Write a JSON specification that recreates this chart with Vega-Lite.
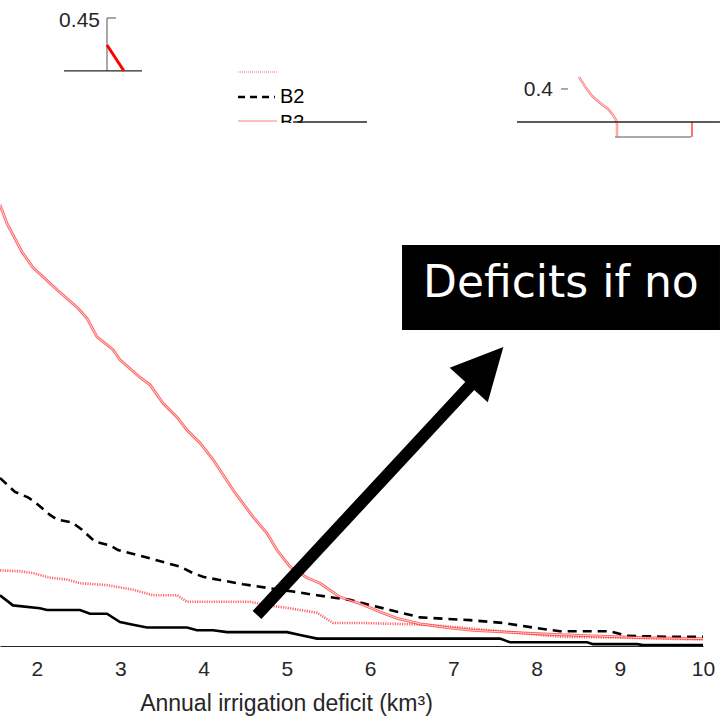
{
  "$schema": "https://vega.github.io/schema/vega-lite/v6.json",
  "width": 703,
  "height": 646,
  "autosize": {"type": "none"},
  "padding": {"left": 0, "top": 0, "right": 17, "bottom": 75},
  "background": "white",
  "config": {"view": {"stroke": null}, "font": "Liberation Sans"},
  "datasets": {
    "curves": [
      {"s": "B3", "x": 1.556, "y": 0.478}, {"s": "B3", "x": 1.64, "y": 0.458}, {"s": "B3", "x": 1.82, "y": 0.427}, {"s": "B3", "x": 1.952, "y": 0.41},
      {"s": "B3", "x": 2.241, "y": 0.386}, {"s": "B3", "x": 2.493, "y": 0.366}, {"s": "B3", "x": 2.601, "y": 0.355}, {"s": "B3", "x": 2.721, "y": 0.335},
      {"s": "B3", "x": 2.913, "y": 0.321}, {"s": "B3", "x": 2.997, "y": 0.31}, {"s": "B3", "x": 3.238, "y": 0.291}, {"s": "B3", "x": 3.358, "y": 0.283},
      {"s": "B3", "x": 3.514, "y": 0.263}, {"s": "B3", "x": 3.682, "y": 0.248}, {"s": "B3", "x": 3.802, "y": 0.234}, {"s": "B3", "x": 3.958, "y": 0.22},
      {"s": "B3", "x": 4.115, "y": 0.202}, {"s": "B3", "x": 4.355, "y": 0.169}, {"s": "B3", "x": 4.595, "y": 0.14}, {"s": "B3", "x": 4.763, "y": 0.122},
      {"s": "B3", "x": 4.883, "y": 0.104}, {"s": "B3", "x": 5.039, "y": 0.086}, {"s": "B3", "x": 5.244, "y": 0.074}, {"s": "B3", "x": 5.4, "y": 0.068},
      {"s": "B3", "x": 5.64, "y": 0.053}, {"s": "B3", "x": 5.88, "y": 0.046}, {"s": "B3", "x": 6.12, "y": 0.037}, {"s": "B3", "x": 6.325, "y": 0.03},
      {"s": "B3", "x": 6.601, "y": 0.024}, {"s": "B3", "x": 6.925, "y": 0.02}, {"s": "B3", "x": 7.238, "y": 0.017}, {"s": "B3", "x": 7.646, "y": 0.015},
      {"s": "B3", "x": 8.078, "y": 0.013}, {"s": "B3", "x": 8.679, "y": 0.011}, {"s": "B3", "x": 9.28, "y": 0.009}, {"s": "B3", "x": 10.0, "y": 0.008},

      {"s": "B2", "x": 1.556, "y": 0.182}, {"s": "B2", "x": 1.736, "y": 0.167}, {"s": "B2", "x": 1.892, "y": 0.161}, {"s": "B2", "x": 1.976, "y": 0.156},
      {"s": "B2", "x": 2.157, "y": 0.142}, {"s": "B2", "x": 2.241, "y": 0.137}, {"s": "B2", "x": 2.421, "y": 0.134}, {"s": "B2", "x": 2.541, "y": 0.126},
      {"s": "B2", "x": 2.697, "y": 0.113}, {"s": "B2", "x": 2.877, "y": 0.109}, {"s": "B2", "x": 2.973, "y": 0.104}, {"s": "B2", "x": 3.358, "y": 0.095},
      {"s": "B2", "x": 3.634, "y": 0.088}, {"s": "B2", "x": 3.718, "y": 0.086}, {"s": "B2", "x": 3.874, "y": 0.079}, {"s": "B2", "x": 3.994, "y": 0.075},
      {"s": "B2", "x": 4.163, "y": 0.072}, {"s": "B2", "x": 4.475, "y": 0.067}, {"s": "B2", "x": 4.763, "y": 0.063}, {"s": "B2", "x": 5.076, "y": 0.059},
      {"s": "B2", "x": 5.364, "y": 0.055}, {"s": "B2", "x": 5.76, "y": 0.05}, {"s": "B2", "x": 6.241, "y": 0.039}, {"s": "B2", "x": 6.601, "y": 0.031},
      {"s": "B2", "x": 7.202, "y": 0.028}, {"s": "B2", "x": 7.598, "y": 0.025}, {"s": "B2", "x": 7.958, "y": 0.02}, {"s": "B2", "x": 8.283, "y": 0.016},
      {"s": "B2", "x": 8.883, "y": 0.016}, {"s": "B2", "x": 9.088, "y": 0.011}, {"s": "B2", "x": 9.568, "y": 0.01}, {"s": "B2", "x": 10.0, "y": 0.01},

      {"s": "B1", "x": 1.556, "y": 0.082}, {"s": "B1", "x": 1.796, "y": 0.081}, {"s": "B1", "x": 1.952, "y": 0.079}, {"s": "B1", "x": 2.157, "y": 0.074},
      {"s": "B1", "x": 2.361, "y": 0.072}, {"s": "B1", "x": 2.517, "y": 0.068}, {"s": "B1", "x": 2.841, "y": 0.066}, {"s": "B1", "x": 3.154, "y": 0.061},
      {"s": "B1", "x": 3.394, "y": 0.055}, {"s": "B1", "x": 3.682, "y": 0.055}, {"s": "B1", "x": 3.802, "y": 0.048}, {"s": "B1", "x": 4.559, "y": 0.048},
      {"s": "B1", "x": 4.763, "y": 0.044}, {"s": "B1", "x": 4.955, "y": 0.042}, {"s": "B1", "x": 5.364, "y": 0.036}, {"s": "B1", "x": 5.556, "y": 0.025},
      {"s": "B1", "x": 5.88, "y": 0.025}, {"s": "B1", "x": 6.685, "y": 0.023}, {"s": "B1", "x": 7.082, "y": 0.02}, {"s": "B1", "x": 7.682, "y": 0.015},
      {"s": "B1", "x": 8.283, "y": 0.01}, {"s": "B1", "x": 9.088, "y": 0.009}, {"s": "B1", "x": 10.0, "y": 0.007},

      {"s": "B0", "x": 1.556, "y": 0.055}, {"s": "B0", "x": 1.712, "y": 0.044}, {"s": "B0", "x": 2.036, "y": 0.041}, {"s": "B0", "x": 2.121, "y": 0.039},
      {"s": "B0", "x": 2.517, "y": 0.039}, {"s": "B0", "x": 2.637, "y": 0.035}, {"s": "B0", "x": 2.841, "y": 0.035}, {"s": "B0", "x": 2.997, "y": 0.026},
      {"s": "B0", "x": 3.154, "y": 0.023}, {"s": "B0", "x": 3.322, "y": 0.02}, {"s": "B0", "x": 3.802, "y": 0.02}, {"s": "B0", "x": 3.922, "y": 0.017},
      {"s": "B0", "x": 4.115, "y": 0.017}, {"s": "B0", "x": 4.283, "y": 0.015}, {"s": "B0", "x": 5.003, "y": 0.015}, {"s": "B0", "x": 5.16, "y": 0.012},
      {"s": "B0", "x": 5.364, "y": 0.008}, {"s": "B0", "x": 7.562, "y": 0.008}, {"s": "B0", "x": 7.682, "y": 0.004}, {"s": "B0", "x": 8.607, "y": 0.004},
      {"s": "B0", "x": 8.679, "y": 0.002}, {"s": "B0", "x": 9.208, "y": 0.002}, {"s": "B0", "x": 9.28, "y": 0.001}, {"s": "B0", "x": 10.0, "y": 0.001}
    ],
    "inset": [
      {"i": 1, "x": 8.511, "y": 0.6166}, {"i": 2, "x": 8.595, "y": 0.6046}, {"i": 3, "x": 8.667, "y": 0.596},
      {"i": 4, "x": 8.763, "y": 0.5884}, {"i": 5, "x": 8.859, "y": 0.5819}, {"i": 6, "x": 8.919, "y": 0.5754},
      {"i": 7, "x": 8.955, "y": 0.57}, {"i": 8, "x": 8.967, "y": 0.5656}, {"i": 9, "x": 8.967, "y": 0.5516}
    ],
    "ticks": [
      {"x": 2}, {"x": 3}, {"x": 4}, {"x": 5}, {"x": 6}, {"x": 7}, {"x": 8}, {"x": 9}, {"x": 10}
    ],
    "segments": [
      {"k": "gray", "x": 2.841, "y": 0.6231, "x2": 2.841, "y2": 0.6805},
      {"k": "gray", "x": 2.841, "y": 0.6805, "x2": 2.949, "y2": 0.6805},
      {"k": "frame", "x": 2.325, "y": 0.6231, "x2": 3.262, "y2": 0.6231},
      {"k": "redthick", "x": 2.841, "y": 0.6512, "x2": 3.045, "y2": 0.6231},
      {"k": "legdot", "x": 4.415, "y": 0.622, "x2": 4.883, "y2": 0.622},
      {"k": "legdash", "x": 4.415, "y": 0.5949, "x2": 4.859, "y2": 0.5949},
      {"k": "legpink", "x": 4.415, "y": 0.5689, "x2": 4.883, "y2": 0.5689},
      {"k": "gray", "x": 8.295, "y": 0.6036, "x2": 8.379, "y2": 0.6036},
      {"k": "gray", "x": 8.943, "y": 0.5516, "x2": 9.856, "y2": 0.5516},
      {"k": "redthin", "x": 9.868, "y": 0.5678, "x2": 9.868, "y2": 0.5516},
      {"k": "frame2", "x": 5.076, "y": 0.5678, "x2": 5.964, "y2": 0.5678},
      {"k": "frame2", "x": 7.766, "y": 0.5678, "x2": 10.204, "y2": 0.5678},
      {"k": "arrow", "x": 4.643, "y": 0.0336, "x2": 7.322, "y2": 0.2937}
    ],
    "boxes": [
      {"k": "mask", "x": 4.895, "x2": 5.304, "y": 0.5526, "y2": 0.5667},
      {"k": "banner", "x": 6.385, "x2": 10.204, "y": 0.3424, "y2": 0.4345}
    ],
    "labels": [
      {"k": "tick", "t": "0.45", "x": 2.757, "y": 0.6707},
      {"k": "tick", "t": "0.4", "x": 8.198, "y": 0.596},
      {"k": "leg", "t": "B2", "x": 4.919, "y": 0.5884},
      {"k": "leg", "t": "B3", "x": 4.919, "y": 0.5597}
    ],
    "banner": [
      {"t": "Deficits if no", "x": 6.637, "y": 0.3782}
    ],
    "head": [
      {"x": 7.394, "y": 0.3034}
    ]
  },
  "encoding": {
    "x": {
      "field": "x",
      "type": "quantitative",
      "scale": {"domain": [1.556, 10], "nice": false, "zero": false},
      "axis": {
        "values": [2, 3, 4, 5, 6, 7, 8, 9, 10],
        "title": "Annual irrigation deficit (km³)",
        "grid": false,
        "domainColor": "#262626",
        "domainWidth": 1.2,
        "tickColor": "transparent",
        "tickSize": -8,
        "labelFont": "Liberation Sans",
        "labelFontSize": 21,
        "labelColor": "#262626",
        "labelBaseline": "alphabetic",
        "labelPadding": 37,
        "labelFlush": false,
        "labelOverlap": false,
        "titleFont": "Liberation Sans",
        "titleFontSize": 23,
        "titleFontWeight": "normal",
        "titleColor": "#262626",
        "titleBaseline": "alphabetic",
        "titleX": 286,
        "titleY": 64
      }
    },
    "y": {
      "field": "y",
      "type": "quantitative",
      "scale": {"domain": [0, 0.7], "nice": false, "zero": false},
      "axis": null
    }
  },
  "layer": [
    {"data": {"name": "ticks"},
     "mark": {"type": "rule", "color": "#262626", "strokeWidth": 1},
     "encoding": {"y": {"datum": 0}, "y2": {"datum": 0.0087}}},
    {"data": {"name": "curves"}, "transform": [{"filter": "datum.s === 'B0'"}],
     "mark": {"type": "line", "color": "black", "strokeWidth": 2.6, "clip": true}},
    {"data": {"name": "curves"}, "transform": [{"filter": "datum.s === 'B2'"}],
     "mark": {"type": "line", "color": "black", "strokeWidth": 2.6, "strokeDash": [9, 6], "clip": true}},
    {"data": {"name": "curves"}, "transform": [{"filter": "datum.s === 'B1'"}],
     "mark": {"type": "line", "color": "#ff0000", "strokeWidth": 2.6, "strokeDash": [1.2, 1.2], "opacity": 0.6, "clip": true}},
    {"data": {"name": "curves"}, "transform": [{"filter": "datum.s === 'B3'"}],
     "mark": {"type": "line", "color": "#ff0000", "strokeWidth": 2.8, "opacity": 0.6, "clip": true}},
    {"data": {"name": "curves"}, "transform": [{"filter": "datum.s === 'B3'"}],
     "mark": {"type": "line", "color": "white", "strokeWidth": 0.9, "opacity": 0.8, "clip": true}},
    {"data": {"name": "inset"},
     "mark": {"type": "line", "color": "#ff0000", "strokeWidth": 2.4, "opacity": 0.5},
     "encoding": {"order": {"field": "i", "type": "quantitative"}}},
    {"data": {"name": "inset"},
     "mark": {"type": "line", "color": "white", "strokeWidth": 0.8, "opacity": 0.8},
     "encoding": {"order": {"field": "i", "type": "quantitative"}}},
    {"data": {"name": "segments"}, "transform": [{"filter": "datum.k === 'gray'"}],
     "mark": {"type": "rule", "color": "#8c8c8c", "strokeWidth": 1.5},
     "encoding": {"x2": {"field": "x2"}, "y2": {"field": "y2"}}},
    {"data": {"name": "segments"}, "transform": [{"filter": "datum.k === 'frame'"}],
     "mark": {"type": "rule", "color": "#262626", "strokeWidth": 1.3},
     "encoding": {"x2": {"field": "x2"}, "y2": {"field": "y2"}}},
    {"data": {"name": "segments"}, "transform": [{"filter": "datum.k === 'redthick'"}],
     "mark": {"type": "rule", "color": "#ff0000", "strokeWidth": 3},
     "encoding": {"x2": {"field": "x2"}, "y2": {"field": "y2"}}},
    {"data": {"name": "segments"}, "transform": [{"filter": "datum.k === 'redthin'"}],
     "mark": {"type": "rule", "color": "#ff0000", "strokeWidth": 2, "opacity": 0.55},
     "encoding": {"x2": {"field": "x2"}, "y2": {"field": "y2"}}},
    {"data": {"name": "segments"}, "transform": [{"filter": "datum.k === 'legdot'"}],
     "mark": {"type": "rule", "color": "#ff0000", "strokeWidth": 1.2, "strokeDash": [1, 1], "opacity": 0.6},
     "encoding": {"x2": {"field": "x2"}, "y2": {"field": "y2"}}},
    {"data": {"name": "segments"}, "transform": [{"filter": "datum.k === 'legdash'"}],
     "mark": {"type": "rule", "color": "black", "strokeWidth": 2.6, "strokeDash": [7, 5]},
     "encoding": {"x2": {"field": "x2"}, "y2": {"field": "y2"}}},
    {"data": {"name": "segments"}, "transform": [{"filter": "datum.k === 'legpink'"}],
     "mark": {"type": "rule", "color": "#ffaaaa", "strokeWidth": 1.3},
     "encoding": {"x2": {"field": "x2"}, "y2": {"field": "y2"}}},
    {"data": {"name": "labels"}, "transform": [{"filter": "datum.k === 'tick'"}],
     "mark": {"type": "text", "align": "right", "baseline": "alphabetic", "font": "Liberation Sans", "fontSize": 21, "color": "#262626"},
     "encoding": {"text": {"field": "t"}}},
    {"data": {"name": "labels"}, "transform": [{"filter": "datum.k === 'leg'"}],
     "mark": {"type": "text", "align": "left", "baseline": "alphabetic", "font": "Liberation Sans", "fontSize": 20, "color": "black"},
     "encoding": {"text": {"field": "t"}}},
    {"data": {"name": "boxes"}, "transform": [{"filter": "datum.k === 'mask'"}],
     "mark": {"type": "rect", "color": "white", "opacity": 1},
     "encoding": {"x2": {"field": "x2"}, "y2": {"field": "y2"}}},
    {"data": {"name": "segments"}, "transform": [{"filter": "datum.k === 'frame2'"}],
     "mark": {"type": "rule", "color": "#262626", "strokeWidth": 1.3},
     "encoding": {"x2": {"field": "x2"}, "y2": {"field": "y2"}}},
    {"data": {"name": "segments"}, "transform": [{"filter": "datum.k === 'arrow'"}],
     "mark": {"type": "rule", "color": "black", "strokeWidth": 12},
     "encoding": {"x2": {"field": "x2"}, "y2": {"field": "y2"}}},
    {"data": {"name": "head"},
     "mark": {"type": "point", "shape": "M0,-1L-1,1L1,1Z", "size": 2650, "angle": 42.3, "filled": true, "color": "black", "opacity": 1, "strokeWidth": 0}},
    {"data": {"name": "boxes"}, "transform": [{"filter": "datum.k === 'banner'"}],
     "mark": {"type": "rect", "color": "black", "opacity": 1},
     "encoding": {"x2": {"field": "x2"}, "y2": {"field": "y2"}}},
    {"data": {"name": "banner"},
     "mark": {"type": "text", "align": "left", "baseline": "alphabetic", "font": "DejaVu Sans", "fontSize": 44, "color": "white"},
     "encoding": {"text": {"field": "t"}}}
  ]
}
